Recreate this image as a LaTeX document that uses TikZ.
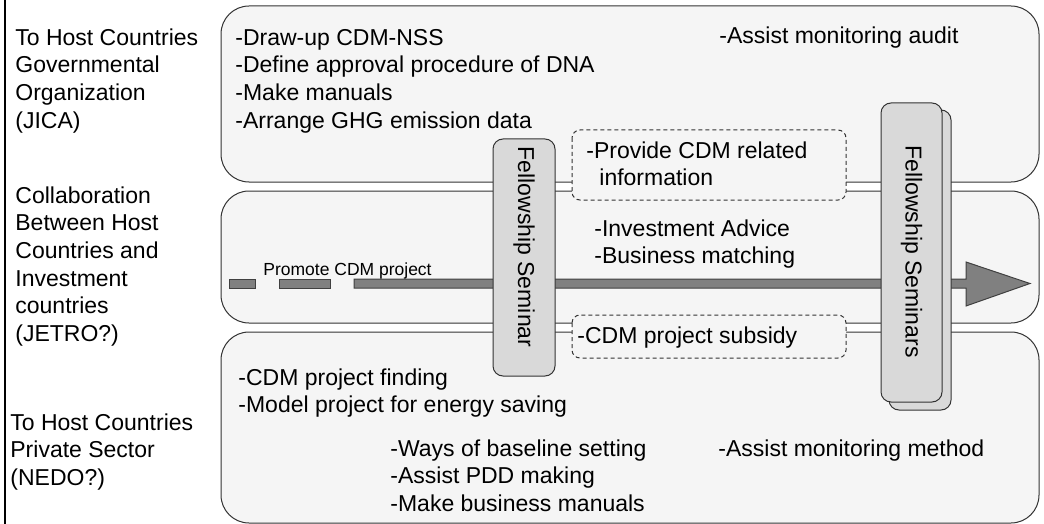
\documentclass[tikz,border=0pt]{standalone}
\usepackage{fontspec}
\setmainfont{Liberation Sans}
\usetikzlibrary{positioning}

\tikzset{
  band/.style={draw=black!80, fill=black!4, rounded corners=14pt, line width=0.5pt},
  fsbox/.style={draw=black!80, fill=black!15, rounded corners=5pt, line width=0.5pt},
  dbox/.style={draw=black!80, fill=black!4, dash pattern=on 2pt off 1.5pt, rounded corners=4pt, line width=0.5pt},
  % multi-line texts sit on the baseline of their last line
  txt/.style={anchor=base west, align=left, inner sep=0pt, font=\fontsize{11.5}{13.85}\selectfont},
  smalltxt/.style={anchor=base west, inner sep=0pt, font=\fontsize{8.75}{10}\selectfont},
  vtxt/.style={rotate=-90, inner sep=0pt, font=\fontsize{11.5}{13.85}\selectfont},
  flow/.style={draw=black!75, fill=black!50, line width=0.5pt},
}

\begin{document}
\begin{tikzpicture}[x=0.5pt, y=-0.5pt]
    \useasboundingbox (0,0) rectangle (1044,524);

    % left border line
    \draw[line width=0.8pt] (5,0) -- (5,524);

    % the three bands
    \draw[band] (221,6) rectangle (1039,182);
    \draw[band] (221,191) rectangle (1039,323);
    \draw[band] (221,332) rectangle (1039,523);

    % Promote CDM project arrow
    \draw[flow] (229,279) rectangle (255,288);
    \draw[flow] (279,279) rectangle (330,288);
    \draw[flow] (354,279) -- (966,279) -- (966,262) -- (1030,283.5)
        -- (966,306) -- (966,288) -- (354,288) -- cycle;
    \node[smalltxt] (promote) at (263,275) {Promote CDM project};

    % seminar boxes
    \draw[fsbox] (493,139) rectangle (555,376);
    \node[vtxt] (seminar) at (524,247) {Fellowship Seminar};
    \draw[fsbox] (889,110) rectangle (951,410);
    \draw[fsbox] (881,103) rectangle (942,402);
    \node[vtxt] (seminars) at (911.5,251.5) {Fellowship Seminars};

    % dashed boxes
    \draw[dbox] (572,130) rectangle (846,200);
    \draw[dbox] (572,315) rectangle (846,358);

    % left labels
    \node[txt] (govlbl) at (15,128.1) {To Host Countries\\Governmental\\Organization\\(JICA)};
    \node[txt] (collablbl) at (15,341.5) {Collaboration\\Between Host\\Countries and\\Investment\\countries\\(JETRO?)};
    \node[txt] (privlbl) at (10,485.4) {To Host Countries\\Private Sector\\(NEDO?)};

    % top band
    \node[txt] (govtasks) at (235,128.1) {-Draw-up CDM-NSS\\-Define approval procedure of DNA\\-Make manuals\\-Arrange GHG emission data};
    \node[txt] (audit) at (719,44) {-Assist monitoring audit};
    \node[txt] (provideinfo) at (586,185.7) {-Provide CDM related\\\hspace*{6.5pt}information};

    % middle band
    \node[txt] (invest) at (594,263.7) {-Investment Advice\\-Business matching};
    \node[txt] (subsidy) at (577,343) {-CDM project subsidy};

    % bottom band
    \node[txt] (finding) at (238,412.7) {-CDM project finding\\-Model project for energy saving};
    \node[txt] (baseline) at (390,511.4) {-Ways of baseline setting\\-Assist PDD making\\-Make business manuals};
    \node[txt] (monmethod) at (718,456) {-Assist monitoring method};
\end{tikzpicture}
\end{document}
